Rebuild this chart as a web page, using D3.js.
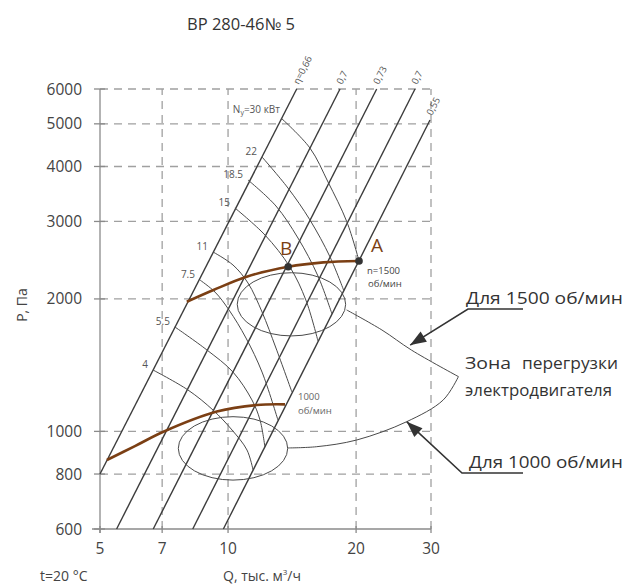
<!DOCTYPE html>
<html>
<head>
<meta charset="utf-8">
<script src="https://cdn.jsdelivr.net/npm/d3@7"></script>
<style>
  body { margin: 0; background: #fff; }
  text { font-family: "Open Sans", "DejaVu Sans", sans-serif; }
</style>
</head>
<body>
<div id="chart"></div>
<script>
// axis ticks
var xTicks = [5, 7, 10, 20, 30];
var yTicks = [600, 800, 1000, 2000, 3000, 4000, 5000, 6000];

// efficiency lines (Q, P) bottom -> top
var etaLabels = ["η=0,66", "0,7", "0,73", "0,7", "0,55"];
var etaLines = [
    [[5.0, 800], [14.5, 6000]],
    [[5.47, 600], [18.33, 6000]],
    [[6.67, 600], [22.36, 6000]],
    [[8.26, 600], [27.51, 6000]],
    [[9.75, 600], [29.84, 5100]]
];

// constant power arcs, kW
var powerLabels = ["30", "22", "18.5", "15", "11", "7.5", "5.5", "4"];
var powerArcs = [
    [[13.32, 5156], [15.58, 4405], [17.18, 3688], [19.03, 2992], [20.32, 2440]],
    [[12.02, 4203], [13.83, 3574], [15.58, 3023], [17.37, 2491], [18.73, 2084]],
    [[11.14, 3727], [12.96, 3253], [14.60, 2751], [16.27, 2255], [17.55, 1849]],
    [[10.38, 3219], [12.21, 2795], [13.98, 2363], [15.24, 1988], [16.27, 1605]],
    [[9.22, 2557], [10.27, 2389], [11.14, 2174], [12.02, 1868], [12.96, 1547], [14.13, 1229]],
    [[8.59, 2208], [9.32, 2073], [10.05, 1888], [11.02, 1630], [12.02, 1364], [13.10, 1061]],
    [[7.50, 1727], [8.92, 1531], [10.27, 1364], [11.38, 1179], [11.89, 1061], [12.21, 921]],
    [[6.66, 1379], [8.05, 1242], [9.22, 1118], [10.22, 1007], [11.08, 907], [11.45, 817]]
];

// fan curves
var curve1500 = [[8.00, 1971], [9.24, 2096], [11.06, 2247], [13.85, 2367], [16.75, 2422], [20.32, 2440]];
var curve1000 = [[5.19, 861], [6.04, 926], [7.05, 998], [9.41, 1109], [11.68, 1148], [13.61, 1152]];
var pointA = [20.32, 2440];
var pointB = [13.85, 2367];

// overload zones: Q range, P range of the ellipses and the outline
var zone1500 = [[10.51, 18.9], [1648, 2294]];
var zone1000 = [[7.64, 13.81], [775, 1080]];
var zoneUpper = [[19.0, 1888], [23.0, 1700], [27.0, 1530], [34.8, 1332]];
var zoneLower = [[34.8, 1332], [32.06, 1179], [26.3, 1052], [20.07, 956], [16.16, 923], [13.81, 917]];
var arrowTips = [[26.8, 1571], [26.3, 1052]];

var width = 638, height = 585;

var x = d3.scaleLog().domain([5, 30]).range([100, 431]);
var y = d3.scaleLog().domain([600, 6000]).range([529, 89]);

var svg = d3.select("#chart")
    .append("svg")
    .attr("width", width)
    .attr("height", height);

var gridColor = "#a0a0a0";
var inkColor = "#3c3c3c";
var brown = "#7b3f14";

// title
svg.append("text")
    .attr("x", 241).attr("y", 30)
    .attr("text-anchor", "middle")
    .attr("font-size", 16.5)
    .attr("fill", "#333")
    .text("ВР 280-46№ 5");

// grid
var grid = svg.append("g");
grid.selectAll(".hgrid")
    .data(yTicks.filter(function (d) { return d !== 600; }))
    .enter()
    .append("line")
    .attr("x1", x(5)).attr("x2", x(30))
    .attr("y1", function (d) { return y(d); })
    .attr("y2", function (d) { return y(d); })
    .attr("stroke", gridColor)
    .attr("stroke-width", 1.3)
    .attr("stroke-dasharray", "8,6");

grid.selectAll(".vgrid")
    .data(xTicks.filter(function (d) { return d !== 5; }))
    .enter()
    .append("line")
    .attr("x1", function (d) { return x(d); })
    .attr("x2", function (d) { return x(d); })
    .attr("y1", y(600)).attr("y2", y(6000))
    .attr("stroke", gridColor)
    .attr("stroke-width", 1.3)
    .attr("stroke-dasharray", "8,6");

// axes
var axisColor = "#8a8a8a";
svg.append("line")
    .attr("x1", x(5) - 8).attr("x2", x(30))
    .attr("y1", y(600)).attr("y2", y(600))
    .attr("stroke", axisColor).attr("stroke-width", 1.3);
svg.append("line")
    .attr("x1", x(5)).attr("x2", x(5))
    .attr("y1", y(600) + 4).attr("y2", y(6000))
    .attr("stroke", axisColor).attr("stroke-width", 1.3);

svg.selectAll(".ytick")
    .data(yTicks)
    .enter()
    .append("line")
    .attr("x1", x(5) - 6).attr("x2", x(5) + 5)
    .attr("y1", function (d) { return y(d); })
    .attr("y2", function (d) { return y(d); })
    .attr("stroke", axisColor).attr("stroke-width", 1.3);

svg.selectAll(".xtick")
    .data(xTicks)
    .enter()
    .append("line")
    .attr("x1", function (d) { return x(d); })
    .attr("x2", function (d) { return x(d); })
    .attr("y1", y(600) - 3).attr("y2", y(600) + 4)
    .attr("stroke", axisColor).attr("stroke-width", 1.3);

svg.selectAll(".ylab")
    .data(yTicks)
    .enter()
    .append("text")
    .attr("x", 82)
    .attr("y", function (d) { return y(d) + 5.5; })
    .attr("text-anchor", "end")
    .attr("font-size", 15.5)
    .attr("fill", "#444")
    .text(function (d) { return d; });

svg.selectAll(".xlab")
    .data(xTicks)
    .enter()
    .append("text")
    .attr("x", function (d) { return x(d); })
    .attr("y", 554)
    .attr("text-anchor", "middle")
    .attr("font-size", 15.5)
    .attr("fill", "#444")
    .text(function (d) { return d; });

svg.append("text")
    .attr("transform", "translate(27,305) rotate(-90)")
    .attr("text-anchor", "middle")
    .attr("font-size", 14)
    .attr("fill", "#444")
    .text("Р, Па");

svg.append("text")
    .attr("x", 40).attr("y", 581)
    .attr("font-size", 14)
    .attr("fill", "#444")
    .text("t=20 °C");

var qLabel = svg.append("text")
    .attr("x", 223).attr("y", 581)
    .attr("font-size", 14)
    .attr("fill", "#444");
qLabel.append("tspan").text("Q, тыс. м");
qLabel.append("tspan").attr("font-size", 8).attr("dy", -6).text("3");
qLabel.append("tspan").attr("dy", 6).text("/ч");

// efficiency lines
var line = d3.line()
    .x(function (d) { return x(d[0]); })
    .y(function (d) { return y(d[1]); });

svg.append("g").selectAll("path")
    .data(etaLines)
    .enter()
    .append("path")
    .attr("d", line)
    .attr("fill", "none")
    .attr("stroke", inkColor)
    .attr("stroke-width", 1.4);

svg.append("g").selectAll("text")
    .data(etaLines)
    .enter()
    .append("text")
    .attr("transform", function (d) {
        return "translate(" + (x(d[1][0]) + 2) + "," + (y(d[1][1]) - 4) + ") rotate(-63)";
    })
    .attr("font-size", 9.5)
    .attr("fill", "#555")
    .text(function (d, i) { return etaLabels[i]; });

// power arcs
var arc = d3.line()
    .x(function (d) { return x(d[0]); })
    .y(function (d) { return y(d[1]); })
    .curve(d3.curveCatmullRom);

svg.append("g").selectAll("path")
    .data(powerArcs)
    .enter()
    .append("path")
    .attr("d", arc)
    .attr("fill", "none")
    .attr("stroke", "#4a4a4a")
    .attr("stroke-width", 1);

svg.append("g").selectAll("text")
    .data(powerArcs.slice(1))
    .enter()
    .append("text")
    .attr("x", function (d) { return x(d[0][0]) - 5; })
    .attr("y", function (d) { return y(d[0][1]) - 2; })
    .attr("text-anchor", "end")
    .attr("font-size", 10)
    .attr("fill", "#555")
    .text(function (d, i) { return powerLabels[i + 1]; });

var nLabel = svg.append("text")
    .attr("x", x(powerArcs[0][0][0]) - 1)
    .attr("y", y(powerArcs[0][0][1]) - 5)
    .attr("text-anchor", "end")
    .attr("font-size", 10)
    .attr("fill", "#555");
nLabel.append("tspan").text("N");
nLabel.append("tspan").attr("font-size", 7).attr("dy", 2).text("у");
nLabel.append("tspan").attr("dy", -2).text("=" + powerLabels[0] + " кВт");

// overload ellipses
[zone1500, zone1000].forEach(function (z) {
    var x0 = x(z[0][0]), x1 = x(z[0][1]);
    var y0 = y(z[1][1]), y1 = y(z[1][0]);
    svg.append("ellipse")
        .attr("cx", (x0 + x1) / 2).attr("cy", (y0 + y1) / 2)
        .attr("rx", (x1 - x0) / 2).attr("ry", (y1 - y0) / 2)
        .attr("fill", "none")
        .attr("stroke", "#4a4a4a")
        .attr("stroke-width", 1);
});

[zoneUpper, zoneLower].forEach(function (c) {
    svg.append("path")
        .datum(c)
        .attr("d", arc)
        .attr("fill", "none")
        .attr("stroke", "#4a4a4a")
        .attr("stroke-width", 1);
});

// fan curves
[curve1500, curve1000].forEach(function (c) {
    svg.append("path")
        .datum(c)
        .attr("d", arc)
        .attr("fill", "none")
        .attr("stroke", brown)
        .attr("stroke-width", 2.6);
});

svg.selectAll(".pt")
    .data([pointA, pointB])
    .enter()
    .append("circle")
    .attr("cx", function (d) { return x(d[0]); })
    .attr("cy", function (d) { return y(d[1]); })
    .attr("r", 3.8)
    .attr("fill", "#333");

svg.append("text")
    .attr("x", x(pointA[0]) + 18).attr("y", y(pointA[1]) - 9)
    .attr("text-anchor", "middle")
    .attr("font-size", 19)
    .attr("fill", brown)
    .text("A");
svg.append("text")
    .attr("x", x(pointB[0]) - 2).attr("y", y(pointB[1]) - 12)
    .attr("text-anchor", "middle")
    .attr("font-size", 19)
    .attr("fill", brown)
    .text("B");

svg.append("text")
    .attr("x", x(pointA[0]) + 8).attr("y", y(pointA[1]) + 13)
    .attr("font-size", 9.5).attr("fill", "#444")
    .text("n=1500");
svg.append("text")
    .attr("x", x(pointA[0]) + 9).attr("y", y(pointA[1]) + 26)
    .attr("font-size", 9.5).attr("fill", "#444")
    .text("об/мин");

var end1000 = curve1000[curve1000.length - 1];
svg.append("text")
    .attr("x", x(end1000[0]) + 13).attr("y", y(end1000[1]) - 4)
    .attr("font-size", 9.5).attr("fill", "#666")
    .text("1000");
svg.append("text")
    .attr("x", x(end1000[0]) + 13).attr("y", y(end1000[1]) + 10)
    .attr("font-size", 9.5).attr("fill", "#666")
    .text("об/мин");

// annotations on the right
var noteColor = "#333";
function note(tx, ty, size, len, str, anchor) {
    svg.append("text").attr("x", tx).attr("y", ty)
        .attr("font-size", size).attr("fill", noteColor)
        .attr("text-anchor", anchor || "start")
        .attr("textLength", len)
        .attr("lengthAdjust", "spacingAndGlyphs")
        .text(str);
}
note(466, 304, 17, 157, "Для 1500 об/мин");
note(469, 468, 17, 154, "Для 1000 об/мин");
note(465, 369, 16, 46, "Зона");
note(522, 369, 16, 96, "перегрузки");
note(465, 396, 16, 147, "электродвигателя");

var arrowStarts = [[523, 309, 468, 309], [523, 473, 462, 473]];
arrowStarts.forEach(function (s, i) {
    var tx = x(arrowTips[i][0]), ty = y(arrowTips[i][1]);
    svg.append("polyline")
        .attr("points", [[s[0], s[1]], [s[2], s[3]], [tx, ty]].map(function (p) { return p.join(","); }).join(" "))
        .attr("fill", "none")
        .attr("stroke", noteColor)
        .attr("stroke-width", 1.6);
    var dx = tx - s[2], dy = ty - s[3];
    var len = Math.sqrt(dx * dx + dy * dy);
    var ux = dx / len, uy = dy / len;
    var bx = tx - ux * 16, by = ty - uy * 16;
    svg.append("path")
        .attr("d", "M" + tx + "," + ty +
            "L" + (bx - uy * 6) + "," + (by + ux * 6) +
            "L" + (bx + uy * 6) + "," + (by - ux * 6) + "Z")
        .attr("fill", noteColor);
});
</script>
</body>
</html>
